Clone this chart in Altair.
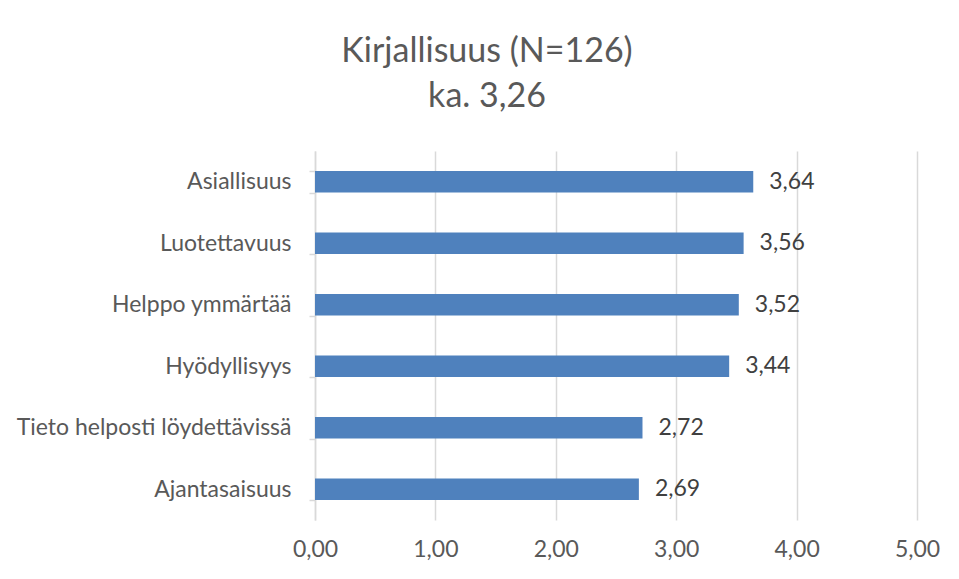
import altair as alt
import pandas as pd

categories = ["Asiallisuus", "Luotettavuus", "Helppo ymmärtää", "Hyödyllisyys",
              "Tieto helposti löydettävissä", "Ajantasaisuus"]
values = [3.64, 3.56, 3.52, 3.44, 2.72, 2.69]
x_ticks = [0, 1, 2, 3, 4, 5]
title_lines = ["Kirjallisuus (N=126)", "ka. 3,26"]

df = pd.DataFrame({"kategoria": categories, "arvo": values})

FONT = "Lato"

y_enc = alt.Y("kategoria:N", sort=categories, title=None,
              scale=alt.Scale(paddingInner=0.65, paddingOuter=0.325),
              axis=alt.Axis(tickBand="extent", domainColor="#D9D9D9", tickColor="#D9D9D9",
                            domainWidth=1.5, tickWidth=1.5,
                            tickSize=6, labelPadding=18, labelFontSize=23, labelFont=FONT,
                            labelColor="#595959", labelLimit=400, grid=False))
x_enc = alt.X("arvo:Q", title=None,
              scale=alt.Scale(domain=[0, 5], nice=False),
              axis=alt.Axis(values=x_ticks, domain=False, ticks=False, grid=True,
                            gridColor="#D9D9D9", gridWidth=1.5, labelPadding=18,
                            labelFlush=False,
                            labelFontSize=23, labelFont=FONT, labelColor="#595959",
                            labelExpr="replace(format(datum.value, '.2f'), '.', ',')"))

bars = alt.Chart(df).mark_bar(color="#4F81BD").encode(x=x_enc, y=y_enc)

labels = alt.Chart(df).transform_calculate(
    txt="replace(format(datum.arvo, '.2f'), '.', ',')"
).mark_text(align="left", baseline="middle", dx=16, fontSize=23, font=FONT,
            color="#404040").encode(x="arvo:Q", y=alt.Y("kategoria:N", sort=categories), text="txt:N")

chart = alt.layer(bars, labels).properties(
    width=602, height=369,
    background="white",
    padding={"left": 307, "top": 143, "right": 30, "bottom": 50},
    autosize=alt.AutoSizeParams(type="none"),
    title=alt.TitleParams(text=title_lines, fontSize=34, font=FONT, fontWeight="normal",
                          color="#595959", lineHeight=45, anchor="middle",
                          offset=26, dx=-129),
).configure_view(strokeWidth=0, stroke=None)

chart.save("out.html", embed_options={"renderer": "svg", "actions": False})
